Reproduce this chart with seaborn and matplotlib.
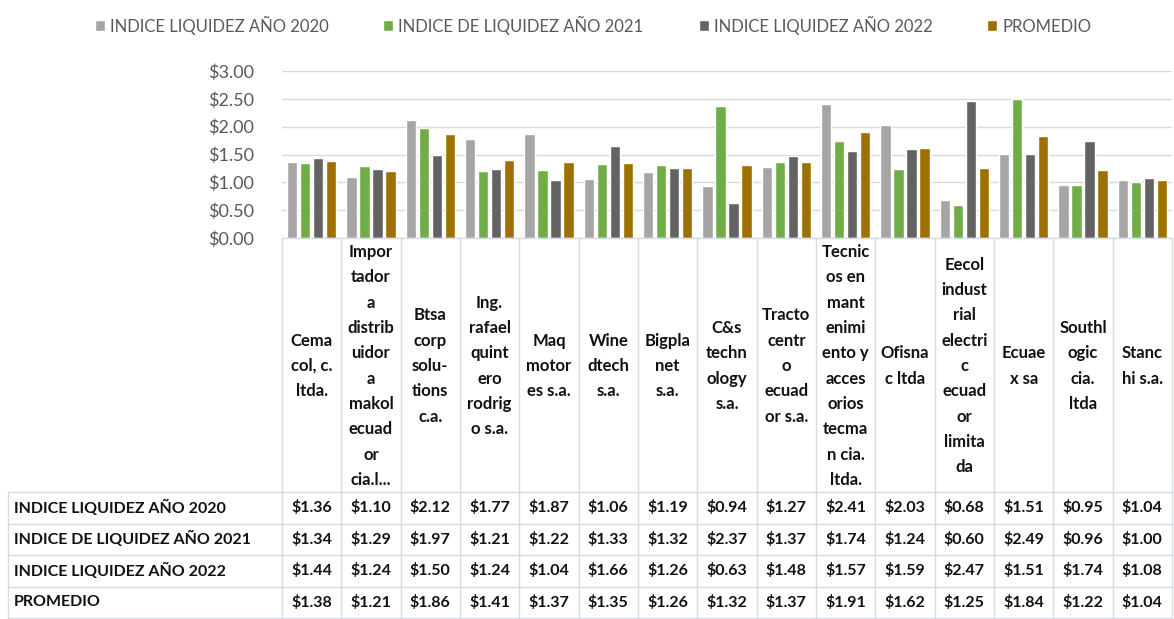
import pandas as pd
import seaborn as sns
import matplotlib.pyplot as plt
from matplotlib.ticker import FuncFormatter, MultipleLocator

# etiquetas de empresas tal como aparecen (ajustadas a la celda)
empresas = [
    'Cema\ncol, c.\nltda.',
    'Impor\ntador\na\ndistrib\nuidor\na\nmakol\necuad\nor\ncia.l...',
    'Btsa\ncorp\nsolu-\ntions\nc.a.',
    'Ing.\nrafael\nquint\nero\nrodrig\no s.a.',
    'Maq\nmotor\nes s.a.',
    'Wine\ndtech\ns.a.',
    'Bigpla\nnet\ns.a.',
    'C&s\ntechn\nology\ns.a.',
    'Tracto\ncentr\no\necuad\nor s.a.',
    'Tecnic\nos en\nmant\nenimi\nento y\nacces\norios\ntecma\nn cia.\nltda.',
    'Ofisna\nc ltda',
    'Eecol\nindust\nrial\nelectri\nc\necuad\nor\nlimita\nda',
    'Ecuae\nx sa',
    'Southl\nogic\ncia.\nltda',
    'Stanc\nhi s.a.',
]
series = ['INDICE LIQUIDEZ AÑO 2020', 'INDICE DE LIQUIDEZ AÑO 2021',
          'INDICE LIQUIDEZ AÑO 2022', 'PROMEDIO']
liquidez_2020 = [1.36, 1.10, 2.12, 1.77, 1.87, 1.06, 1.19, 0.94, 1.27, 2.41, 2.03, 0.68, 1.51, 0.95, 1.04]
liquidez_2021 = [1.34, 1.29, 1.97, 1.21, 1.22, 1.33, 1.32, 2.37, 1.37, 1.74, 1.24, 0.60, 2.49, 0.96, 1.00]
liquidez_2022 = [1.44, 1.24, 1.50, 1.24, 1.04, 1.66, 1.26, 0.63, 1.48, 1.57, 1.59, 2.47, 1.51, 1.74, 1.08]
promedio = [1.38, 1.21, 1.86, 1.41, 1.37, 1.35, 1.26, 1.32, 1.37, 1.91, 1.62, 1.25, 1.84, 1.22, 1.04]
colores = ['#A5A5A5', '#70AD47', '#636363', '#9E7000']

valores = [liquidez_2020, liquidez_2021, liquidez_2022, promedio]
df = pd.DataFrame({
    'empresa': empresas * len(series),
    'serie': [s for s in series for _ in empresas],
    'valor': [v for fila in valores for v in fila],
})

sns.set_theme(style='white')
plt.rcParams['font.family'] = ['Lato', 'DejaVu Sans']

W, H = 1174, 619
fig = plt.figure(figsize=(W / 100, H / 100), dpi=100)
X0, X1, YTOP, YBOT = 282, 1172, 71, 238
ax = fig.add_axes([X0 / W, 1 - YBOT / H, (X1 - X0) / W, (YBOT - YTOP) / H])
sns.barplot(data=df, x='empresa', y='valor', hue='serie', palette=colores,
            width=0.88, gap=0.2, saturation=1, ax=ax)
ax.set_ylim(0, 3)
ax.set_xlim(-0.5, len(empresas) - 0.5)
ax.yaxis.set_major_locator(MultipleLocator(0.5))
ax.yaxis.set_major_formatter(FuncFormatter(lambda v, _: f'${v:.2f}'))
ax.grid(axis='y', color='#D9D9D9', lw=1)
ax.set_axisbelow(True)
for s in ax.spines.values():
    s.set_visible(False)
ax.set_xticks([])
ax.set_xlabel('')
ax.set_ylabel('')
ax.tick_params(axis='y', length=0, pad=20, labelsize=13, labelcolor='#595959')

handles, labels = ax.get_legend_handles_labels()
ax.get_legend().remove()
fig.legend(handles, labels, loc='center', bbox_to_anchor=(593 / W, 1 - 25 / H),
           ncol=4, frameon=False, fontsize=12, labelcolor='#595959',
           handlelength=0.6, handleheight=0.6, handletextpad=0.3, columnspacing=3.3)

# tabla de datos debajo del grafico (coordenadas en pixeles)
tb = fig.add_axes([0, 0, 1, 1])
tb.set_xlim(0, W)
tb.set_ylim(H, 0)
tb.axis('off')
tb.patch.set_visible(False)
linea = '#D6DCE5'
colw = (X1 - X0) / len(empresas)
TTOP = 492
rowh = (H - 1 - TTOP) / len(series)

for i in range(len(empresas) + 1):
    tb.plot([X0 + i * colw] * 2, [YBOT, H - 1], color=linea, lw=1)
tb.plot([8, 8], [TTOP, H - 1], color=linea, lw=1)
tb.plot([X0, X1], [YBOT, YBOT], color=linea, lw=1)
for r in range(len(series) + 1):
    tb.plot([8, X1], [TTOP + r * rowh] * 2, color=linea, lw=1)

for i, nombre in enumerate(empresas):
    tb.text(X0 + (i + 0.5) * colw, (YBOT + TTOP) / 2 + 1, nombre, ha='center', va='center',
            multialignment='center', fontsize=12, linespacing=1.72,
            color='#111111', fontweight='bold')

for r, (serie, fila) in enumerate(zip(series, valores)):
    yc = TTOP + (r + 0.5) * rowh
    tb.text(14, yc, serie, ha='left', va='center', fontsize=11.5,
            color='#111111', fontweight='bold')
    for i, v in enumerate(fila):
        tb.text(X0 + (i + 0.5) * colw, yc, f'${v:.2f}', ha='center', va='center',
                fontsize=11.5, color='#111111', fontweight='bold')

fig.savefig('out.png', dpi=100)
